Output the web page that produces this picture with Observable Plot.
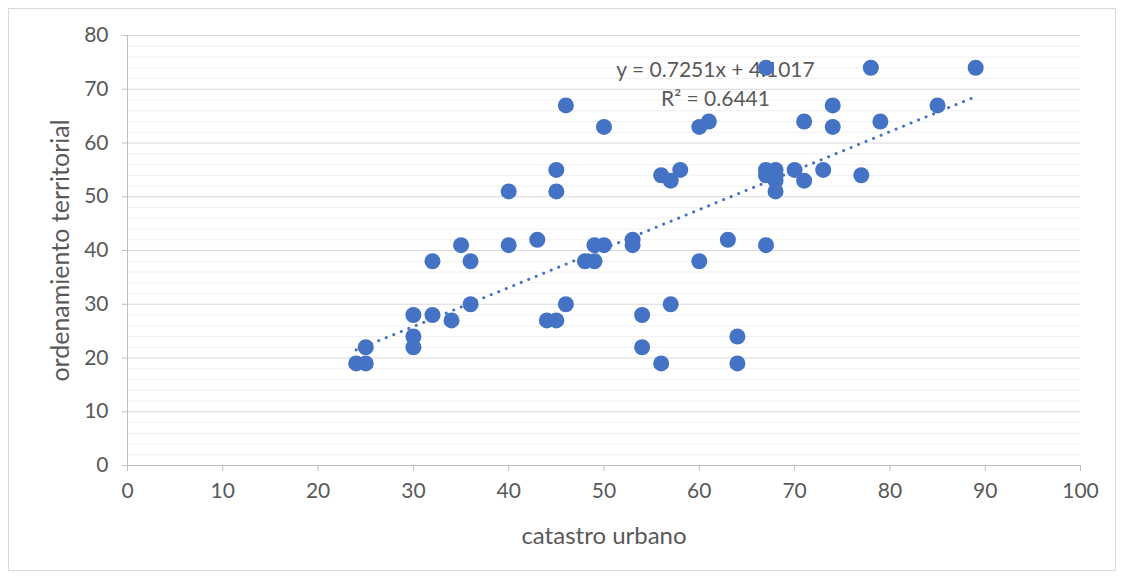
<!DOCTYPE html>
<html><head><meta charset="utf-8">
<script src="https://cdn.jsdelivr.net/npm/d3@7"></script>
<script src="https://cdn.jsdelivr.net/npm/@observablehq/plot@0.6"></script>
<style>
body{margin:0;background:#fff;}
#wrap{position:relative;width:1123px;height:579px;}
#border{position:absolute;left:8px;top:8px;width:1106px;height:561px;border:1px solid #d9d9d9;pointer-events:none;}
#chart{position:absolute;left:0;top:0;}
[aria-label="x-axis label"]{font-size:24px;}
[aria-label="y-axis label"]{font-size:25px;}
</style></head><body><div id="wrap"><div id="chart"></div><div id="border"></div></div>
<script>
// catastro urbano (x) and ordenamiento territorial (y)
const catastro = [24,25,25,30,30,30,32,32,34,35,36,36,40,40,43,44,45,45,45,46,46,48,49,49,50,50,53,53,54,54,56,56,57,57,58,60,60,61,63,64,64,67,67,67,67,68,68,68,68,70,71,71,73,74,74,77,78,79,85,89];
const ordenamiento = [19,19,22,28,24,22,38,28,27,41,38,30,51,41,42,27,27,55,51,67,30,38,41,38,63,41,42,41,28,22,54,19,53,30,55,63,38,64,42,24,19,74,55,54,41,55,54,53,51,55,64,53,55,67,63,54,74,64,67,74];
const xTicks = [0,10,20,30,40,50,60,70,80,90,100];
const yTicks = [0,10,20,30,40,50,60,70,80];
const yMinor = [2,4,6,8,12,14,16,18,22,24,26,28,32,34,36,38,42,44,46,48,52,54,56,58,62,64,66,68,72,74,76,78];
// linear trendline as stated on the chart
const trendSlope = 0.7251;
const trendIntercept = 4.1017;
const trendLabel = ["y = 0.7251x + 4.1017\nR² = 0.6441"];
const trendLabelX = [61.7];
const trendLabelY = [71.3];

const data = catastro.map((x, i) => ({x, y: ordenamiento[i]}));
const trend = d3.extent(catastro).map(x => ({x, y: trendSlope * x + trendIntercept}));
const labels = trendLabel.map((t, i) => ({t, x: trendLabelX[i], y: trendLabelY[i]}));
const blue = "#4472C4";

const chart = Plot.plot({
  width: 1123,
  height: 579,
  marginLeft: 127,
  marginRight: 43,
  marginTop: 35,
  marginBottom: 114,
  style: {fontFamily: "Lato, 'Open Sans', sans-serif", fontSize: "21px", color: "#595959", background: "transparent"},
  x: {domain: [0, 100]},
  y: {domain: [0, 80]},
  marks: [
    Plot.gridY(yMinor, {stroke: "#f0f0f0", strokeOpacity: 1}),
    Plot.gridY(yTicks, {stroke: "#d9d9d9", strokeOpacity: 1}),
    Plot.ruleX([0], {stroke: "#bfbfbf"}),
    Plot.ruleY([0], {stroke: "#bfbfbf"}),
    Plot.axisY({ticks: yTicks, tickSize: 5, tickPadding: 14, stroke: "#bfbfbf", label: "ordenamiento territorial", labelAnchor: "center", labelOffset: 76, labelArrow: "none"}),
    Plot.axisX({ticks: xTicks, tickSize: 6, tickPadding: 12, stroke: "#bfbfbf", label: "catastro urbano", labelAnchor: "center", labelOffset: 78, labelArrow: "none"}),
    Plot.text(labels, {x: "x", y: "y", text: "t", fontSize: 21, lineHeight: 1.4, fill: "#595959"}),
    Plot.dot(data, {x: "x", y: "y", r: 8, fill: blue, stroke: "none"}),
    Plot.line(trend, {x: "x", y: "y", stroke: blue, strokeWidth: 3, strokeDasharray: "0.1 8", strokeLinecap: "round"})
  ]
});
document.getElementById("chart").appendChild(chart);
</script>
</body></html>
